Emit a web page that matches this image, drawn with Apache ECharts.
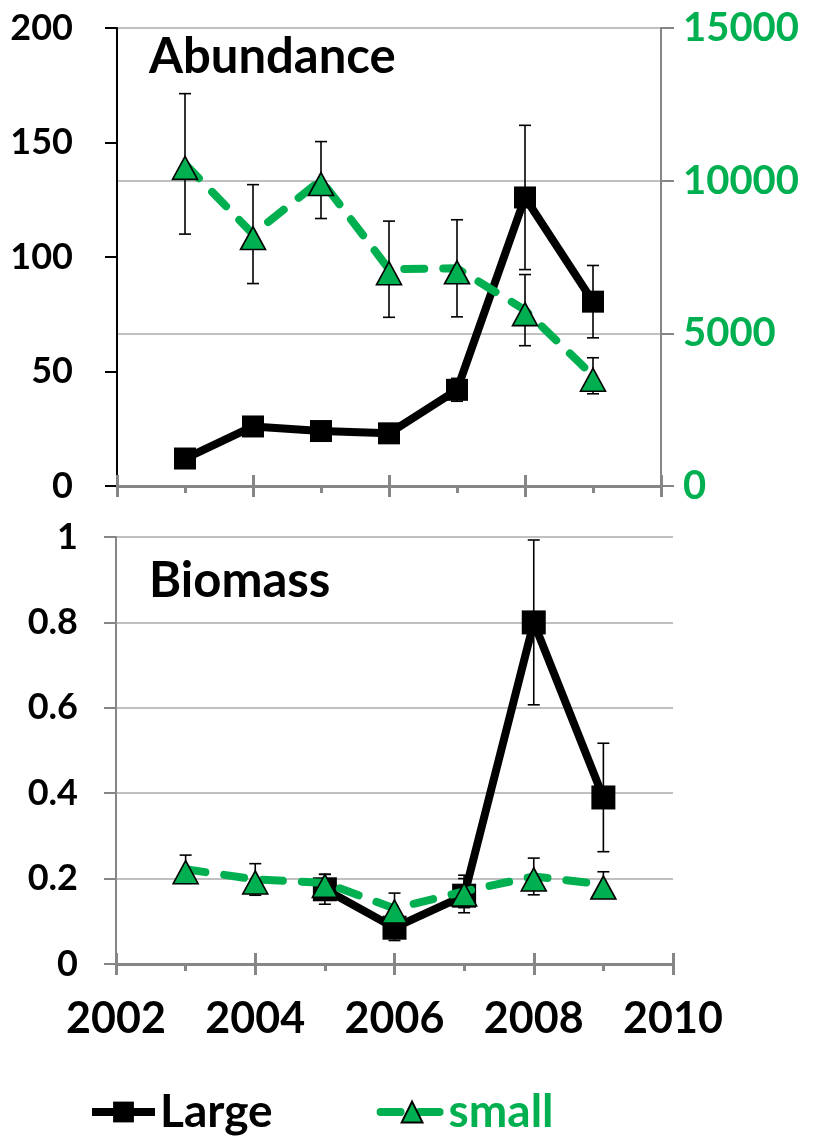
<!DOCTYPE html>
<html><head><meta charset="utf-8">
<script src="https://cdn.jsdelivr.net/npm/echarts@6/dist/echarts.min.js"></script>
<style>html,body{margin:0;padding:0;background:#fff}#c{width:813px;height:1143px}</style>
</head><body><div id="c"></div>
<script>
const years = [2003, 2004, 2005, 2006, 2007, 2008, 2009];
const abundanceLarge = [12, 26, 24, 23, 42, 126, 80.5];
const abundanceLargeErr = [1.5, 1.5, 1.5, 2, 5, 31.5, 15.8];
const abundanceSmall = [10550, 8250, 10020, 7100, 7130, 5760, 3610];
const abundanceSmallErr = [2300, 1620, 1260, 1575, 1590, 1165, 590];
const biomassLarge = [null, null, 0.175, 0.085, 0.16, 0.80, 0.39];
const biomassLargeErr = [null, null, 0.035, 0.03, 0.04, 0.193, 0.127];
const biomassSmall = [0.222, 0.198, 0.19, 0.13, 0.17, 0.205, 0.186];
const biomassSmallErr = [0.033, 0.037, 0.02, 0.036, 0.038, 0.043, 0.03];
const xTickYears = [2002, 2004, 2006, 2008, 2010];

const GREEN = '#00B050';
const AXIS_GRAY = '#868686';
const GRID_GRAY = '#c0c0c0';
const FONT = 'Lato';

function pairs(vals) { return years.map((y, i) => [y, vals[i]]); }
function errData(vals, errs) {
  const out = [];
  years.forEach((y, i) => {
    if (vals[i] != null && errs[i] != null) out.push([y, vals[i] - errs[i], vals[i] + errs[i]]);
  });
  return out;
}
function errRender(params, api) {
  const x = api.value(0), lo = api.value(1), hi = api.value(2);
  const pLo = api.coord([x, lo]), pHi = api.coord([x, hi]);
  const cap = 6;
  const style = { stroke: '#000', lineWidth: 1.6 };
  return { type: 'group', children: [
    { type: 'line', shape: { x1: pLo[0], y1: pLo[1], x2: pHi[0], y2: pHi[1] }, style },
    { type: 'line', shape: { x1: pHi[0] - cap, y1: pHi[1], x2: pHi[0] + cap, y2: pHi[1] }, style },
    { type: 'line', shape: { x1: pLo[0] - cap, y1: pLo[1], x2: pLo[0] + cap, y2: pLo[1] }, style }
  ]};
}

function xMain(gi, showLabel) {
  return {
    gridIndex: gi, type: 'value', min: 2002, max: 2010, interval: 2, position: 'bottom',
    axisLine: { show: true, onZero: false, lineStyle: { color: AXIS_GRAY, width: 3 } },
    axisTick: { show: true, inside: false, length: 11, lineStyle: { color: AXIS_GRAY, width: 3 } },
    minorTick: { show: true, splitNumber: 2, length: 7, lineStyle: { color: AXIS_GRAY, width: 3 } },
    axisLabel: { show: showLabel, fontFamily: FONT, fontWeight: 'bold', fontSize: 43, color: '#000', margin: 34,
      formatter: v => xTickYears.includes(v) ? String(v) : '' },
    splitLine: { show: false }
  };
}
function xInner(gi) {
  return {
    gridIndex: gi, type: 'value', min: 2002, max: 2010, interval: 2, position: 'bottom',
    axisLine: { show: false, onZero: false },
    axisTick: { show: true, inside: true, length: 11, lineStyle: { color: AXIS_GRAY, width: 3 } },
    axisLabel: { show: false }, splitLine: { show: false }
  };
}

const option = {
  animation: false,
  backgroundColor: '#fff',
  textStyle: { fontFamily: FONT },
  title: [
    { text: 'Abundance', left: 144, top: 28, textStyle: { fontFamily: FONT, fontWeight: 'bold', fontSize: 49, color: '#000' } },
    { text: 'Biomass', left: 144, top: 552, textStyle: { fontFamily: FONT, fontWeight: 'bold', fontSize: 49, color: '#000' } }
  ],
  legend: {
    left: 83, top: 1084, itemWidth: 63, itemHeight: 26, itemGap: 104,
    lineStyle: { width: 8 },
    data: [
      { name: 'Large', textStyle: { color: '#000' } },
      { name: 'small', textStyle: { color: GREEN } }
    ],
    textStyle: { fontFamily: FONT, fontWeight: 'bold', fontSize: 46 }
  },
  grid: [
    { left: 117, right: 152, top: 28, height: 458 },
    { left: 116, right: 140, top: 537, height: 427 }
  ],
  xAxis: [xMain(0, false), xInner(0), xMain(1, true), xInner(1)],
  yAxis: [
    { gridIndex: 0, type: 'value', min: 0, max: 200, interval: 50, position: 'left',
      axisLine: { show: true, lineStyle: { color: '#000', width: 2 } },
      axisTick: { show: true, length: 12, lineStyle: { color: '#000', width: 2 } },
      axisLabel: { fontFamily: FONT, fontWeight: 'bold', fontSize: 36, color: '#000', margin: 44 },
      splitLine: { show: false } },
    { gridIndex: 0, type: 'value', min: 0, max: 15000, interval: 5000, position: 'right',
      axisLine: { show: true, lineStyle: { color: AXIS_GRAY, width: 2 } },
      axisTick: { show: true, length: 13, lineStyle: { color: AXIS_GRAY, width: 2 } },
      axisLabel: { fontFamily: FONT, fontWeight: 'bold', fontSize: 40, color: GREEN, margin: 22,
        formatter: v => String(v) },
      splitLine: { show: true, lineStyle: { color: GRID_GRAY, width: 2 } } },
    { gridIndex: 1, type: 'value', min: 0, max: 1, interval: 0.2, position: 'left',
      axisLine: { show: true, lineStyle: { color: AXIS_GRAY, width: 2 } },
      axisTick: { show: true, length: 12, lineStyle: { color: AXIS_GRAY, width: 2 } },
      axisLabel: { fontFamily: FONT, fontWeight: 'bold', fontSize: 36, color: '#000', margin: 38 },
      splitLine: { show: true, lineStyle: { color: GRID_GRAY, width: 2 } } }
  ],
  series: [
    { type: 'custom', name: 'errAL', xAxisIndex: 0, yAxisIndex: 0, renderItem: errRender, z: 1,
      data: errData(abundanceLarge, abundanceLargeErr), encode: { x: 0, y: [1, 2] } },
    { type: 'custom', name: 'errAS', xAxisIndex: 0, yAxisIndex: 1, renderItem: errRender, z: 1,
      data: errData(abundanceSmall, abundanceSmallErr), encode: { x: 0, y: [1, 2] } },
    { type: 'custom', name: 'errBL', xAxisIndex: 2, yAxisIndex: 2, renderItem: errRender, z: 1,
      data: errData(biomassLarge, biomassLargeErr), encode: { x: 0, y: [1, 2] } },
    { type: 'custom', name: 'errBS', xAxisIndex: 2, yAxisIndex: 2, renderItem: errRender, z: 1,
      data: errData(biomassSmall, biomassSmallErr), encode: { x: 0, y: [1, 2] } },
    { type: 'line', name: 'Large', xAxisIndex: 0, yAxisIndex: 0, z: 3,
      data: pairs(abundanceLarge), symbol: 'rect', symbolSize: 22,
      itemStyle: { color: '#000' }, lineStyle: { color: '#000', width: 8 } },
    { type: 'line', name: 'small', xAxisIndex: 0, yAxisIndex: 1, z: 4,
      data: pairs(abundanceSmall), symbol: 'triangle', symbolSize: [25, 23], symbolOffset: [0, 4],
      itemStyle: { color: GREEN, borderColor: '#000', borderWidth: 1.6 },
      lineStyle: { color: GREEN, width: 8, type: [20, 19], cap: 'round' } },
    { type: 'line', name: 'Large', xAxisIndex: 2, yAxisIndex: 2, z: 3,
      data: pairs(biomassLarge), symbol: 'rect', symbolSize: 24, connectNulls: false,
      itemStyle: { color: '#000' }, lineStyle: { color: '#000', width: 8 } },
    { type: 'line', name: 'small', xAxisIndex: 2, yAxisIndex: 2, z: 4,
      data: pairs(biomassSmall), symbol: 'triangle', symbolSize: [25, 23], symbolOffset: [0, 3],
      itemStyle: { color: GREEN, borderColor: '#000', borderWidth: 1.6 },
      lineStyle: { color: GREEN, width: 8, type: [20, 19], cap: 'round' } }
  ]
};
const chart = echarts.init(document.getElementById('c'), null, { renderer: 'canvas' });
chart.setOption(option);
</script>
</body></html>
